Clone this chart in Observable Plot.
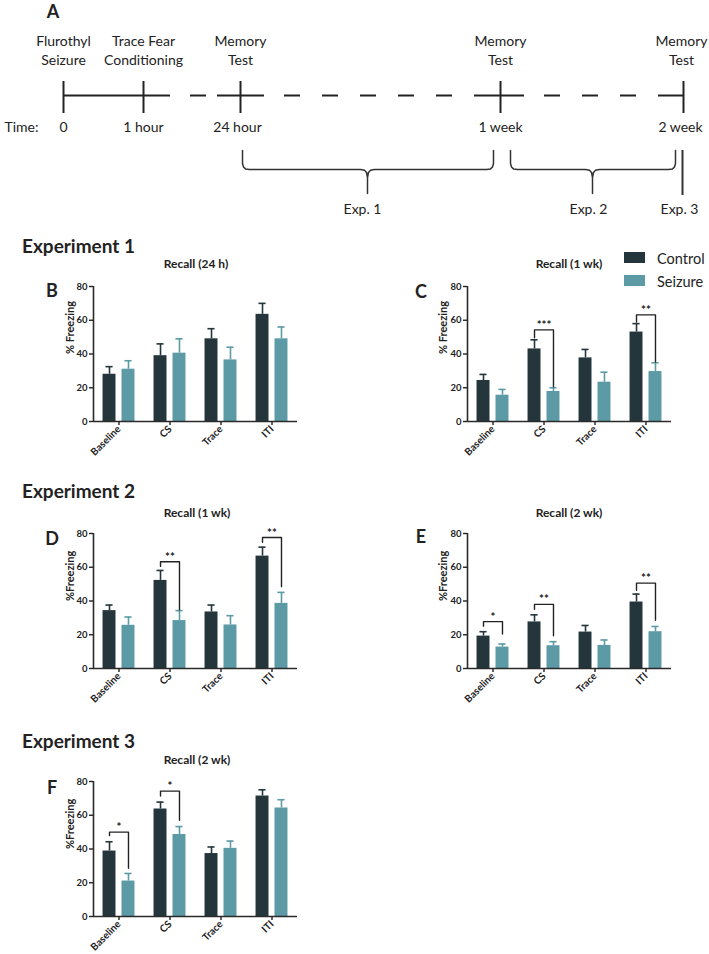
<!DOCTYPE html>
<html><head><meta charset="utf-8">
<script src="https://cdn.jsdelivr.net/npm/d3@7"></script>
<script src="https://cdn.jsdelivr.net/npm/@observablehq/plot@0.6"></script>
<style>
html,body{margin:0;padding:0;background:#fff;overflow:hidden}
#fig{position:relative;width:709px;height:954px;font-family:Lato,sans-serif;color:#222}
.panel{position:absolute}
</style></head>
<body><div id="fig"></div>
<script>
// ---------- shared categories ----------
const categories = ["Baseline", "CS", "Trace", "ITI"];
const groups = ["Control", "Seizure"];
const groupColors = ["#24363b", "#5c9aa5"];
const yTicks = [0, 20, 40, 60, 80];

// ---------- Panel A: timeline (schematic positions) ----------
const timelineEvents = [
  {top: "Flurothyl", bottom: "Seizure", time: "0", pos: 63, labelPos: 63, timePos: 63},
  {top: "Trace Fear", bottom: "Conditioning", time: "1 hour", pos: 143, labelPos: 143, timePos: 143},
  {top: "Memory", bottom: "Test", time: "24 hour", pos: 240, labelPos: 240, timePos: 237},
  {top: "Memory", bottom: "Test", time: "1 week", pos: 500, labelPos: 500, timePos: 500},
  {top: "Memory", bottom: "Test", time: "2 week", pos: 683, labelPos: 681, timePos: 680}
];
const timelineSolid = [[63, 170], [217, 264], [477, 524], [660, 683]];
const timelineDashed = [[170, 217], [264, 477], [524, 660]];
const experimentBraces = [
  {label: "Exp. 1", from: 242, to: 493, mid: 367, labelPos: 362},
  {label: "Exp. 2", from: 510, to: 675, mid: 592, labelPos: 588}
];
const experimentLines = [{label: "Exp. 3", pos: 682, labelPos: 679}];

// ---------- Panel B: Experiment 1, Recall (24 h) ----------
const bControl = [28, 39, 49, 63.5];
const bControlSem = [4.5, 7, 6, 6.5];
const bSeizure = [31, 40.5, 36.5, 49];
const bSeizureSem = [5, 8.5, 7.5, 7];
const bSig = [];

// ---------- Panel C: Experiment 1, Recall (1 wk) ----------
const cControl = [24.3, 43, 37.7, 53];
const cControlSem = [3.6, 5.4, 5, 5];
const cSeizure = [15.6, 17.8, 23.3, 29.6];
const cSeizureSem = [3.4, 2.2, 5.9, 5.2];
const cSig = [
  {cat: "CS", y: 54.3, left: 49.6, right: 20.6, label: "***"},
  {cat: "ITI", y: 63.2, left: 59, right: 35.3, label: "**"}
];

// ---------- Panel D: Experiment 2, Recall (1 wk) ----------
const dControl = [34.3, 52.2, 33.5, 66.6];
const dControlSem = [3.3, 5.9, 4.1, 5.3];
const dSeizure = [25.6, 28.4, 25.8, 38.6];
const dSeizureSem = [4.9, 5.9, 5.5, 6.5];
const dSig = [
  {cat: "CS", y: 63.3, left: 60.5, right: 34.8, label: "**"},
  {cat: "ITI", y: 77.6, left: 74.8, right: 48.5, label: "**"}
];

// ---------- Panel E: Experiment 2, Recall (2 wk) ----------
const eControl = [19.2, 27.6, 21.6, 39.4];
const eControlSem = [2.6, 4.2, 3.9, 4.7];
const eSeizure = [12.7, 13.5, 13.7, 21.8];
const eSeizureSem = [1.8, 2.4, 3.2, 3.1];
const eSig = [
  {cat: "Baseline", y: 27.8, left: 25.1, right: 20.4, label: "*"},
  {cat: "CS", y: 38, left: 35.1, right: 19.4, label: "**"},
  {cat: "ITI", y: 50.6, left: 46.3, right: 28.6, label: "**"}
];

// ---------- Panel F: Experiment 3, Recall (2 wk) ----------
const fControl = [38.8, 63.7, 37.3, 71.4];
const fControlSem = [5.5, 4.1, 3.9, 3.7];
const fSeizure = [21, 48.6, 40.4, 64.3];
const fSeizureSem = [4.5, 4.7, 4.3, 4.9];
const fSig = [
  {cat: "Baseline", y: 50, left: 48, right: 28.6, label: "*"},
  {cat: "CS", y: 74.3, left: 71.4, right: 57, label: "*"}
];

// ---------- Text ----------
const experimentTitles = ["Experiment 1", "Experiment 2", "Experiment 3"];
const panelLetters = ["A", "B", "C", "D", "E", "F"];

const fig = document.getElementById("fig");
function place(node, left, top) {
  const div = document.createElement("div");
  div.className = "panel";
  div.style.left = left + "px";
  div.style.top = top + "px";
  div.appendChild(node);
  fig.appendChild(div);
}

// ---------- Panel A ----------
function bracePoints(b, k) {
  const yTop = 150, yMid = 169, yBot = 193;
  const {from: x1, to: x2, mid: xc} = b;
  return [
    [x1, yTop], [x1, yMid - 6], [x1 + 1, yMid - 2.5], [x1 + 3, yMid - 0.6], [x1 + 7, yMid],
    [xc - 7, yMid], [xc - 3, yMid + 0.8], [xc - 1, yMid + 3], [xc, yMid + 8], [xc, yBot],
    [xc, yMid + 8], [xc + 1, yMid + 3], [xc + 3, yMid + 0.8], [xc + 7, yMid],
    [x2 - 7, yMid], [x2 - 3, yMid - 0.6], [x2 - 1, yMid - 2.5], [x2, yMid - 6], [x2, yTop]
  ].map(([x, y]) => ({x, y, k}));
}
const braceData = experimentBraces.flatMap((b, k) => bracePoints(b, k));

const panelA = Plot.plot({
  width: 709, height: 220, margin: 0,
  x: {domain: [0, 709], range: [0, 709], axis: null},
  y: {domain: [0, 220], range: [0, 220], axis: null},
  style: "font-family:Lato,sans-serif;font-size:14px;color:#222;background:transparent;overflow:visible",
  marks: [
    Plot.ruleY(timelineSolid, {x1: d => d[0], x2: d => d[1], y: () => 95, stroke: "#222", strokeWidth: 2}),
    Plot.ruleY(timelineDashed, {x1: d => d[0], x2: d => d[1], y: () => 95, stroke: "#222", strokeWidth: 2,
      strokeDasharray: "16,22", strokeDashoffset: 18}),
    Plot.ruleX(timelineEvents, {x: "pos", y1: () => 81, y2: () => 113, stroke: "#222", strokeWidth: 2}),
    Plot.text(timelineEvents, {x: "labelPos", y: () => 41, text: "top"}),
    Plot.text(timelineEvents, {x: "labelPos", y: () => 60, text: "bottom"}),
    Plot.text(timelineEvents, {x: "timePos", y: () => 127, text: "time"}),
    Plot.text(["Time:"], {x: () => 4, y: () => 127, text: d => d, textAnchor: "start"}),
    Plot.line(braceData, {x: "x", y: "y", z: "k", stroke: "#333", strokeWidth: 1.5}),
    Plot.ruleX(experimentLines, {x: "pos", y1: () => 150, y2: () => 195, stroke: "#333", strokeWidth: 2}),
    Plot.text([...experimentBraces, ...experimentLines], {x: "labelPos", y: () => 209, text: "label"})
  ]
});
place(panelA, 0, 0);

// ---------- Bar panels ----------
function barPanel(p) {
  const rows = categories.flatMap((cat, i) => [
    {cat, i, group: "Control", value: p.control[i], sem: p.controlSem[i]},
    {cat, i, group: "Seizure", value: p.seizure[i], sem: p.seizureSem[i]}
  ]);
  const shift = {Control: -0.186, Seizure: 0.186};
  const hw = 0.127, cap = 0.07;
  const cx = d => d.i + shift[d.group];
  const brackets = p.sig.flatMap((s, k) => {
    const i = categories.indexOf(s.cat);
    return [
      {k, x: i + shift.Control, y: s.left}, {k, x: i + shift.Control, y: s.y},
      {k, x: i + shift.Seizure, y: s.y}, {k, x: i + shift.Seizure, y: s.right}
    ];
  });
  return Plot.plot({
    width: 260, height: 188, marginLeft: 40, marginRight: 16, marginTop: 12, marginBottom: 41,
    style: "font-family:Lato,sans-serif;font-weight:700;font-size:9.5px;color:#222;background:transparent;overflow:visible",
    x: {domain: [-0.5, 3.5]},
    y: {domain: [0, 80]},
    color: {domain: groups, range: groupColors},
    marks: [
      Plot.rect(rows, {x1: d => cx(d) - hw, x2: d => cx(d) + hw, y1: () => 0, y2: "value", fill: "group"}),
      Plot.ruleX(rows, {x: cx, y1: "value", y2: d => d.value + d.sem, stroke: "group", strokeWidth: 1.6}),
      Plot.ruleY(rows, {x1: d => cx(d) - cap, x2: d => cx(d) + cap, y: d => d.value + d.sem, stroke: "group", strokeWidth: 1.6}),
      Plot.line(brackets, {x: "x", y: "y", z: "k", stroke: "#222", strokeWidth: 1.4}),
      Plot.text(p.sig, {x: d => categories.indexOf(d.cat), y: "y", text: "label", lineAnchor: "bottom", dy: -1, fontSize: 11.5}),
      Plot.ruleX([-0.5], {y1: () => 0, y2: () => 80, stroke: "#2a2a2a", strokeWidth: 1.6}),
      Plot.ruleY([0], {x1: () => -0.5, x2: () => 3.5, stroke: "#2a2a2a", strokeWidth: 1.6}),
      Plot.axisY({ticks: yTicks, tickSize: 4, tickPadding: 2, label: null, strokeWidth: 1.4, fontSize: 9.5}),
      Plot.axisX({ticks: [0, 1, 2, 3], tickFormat: i => categories[i], tickRotate: -45, tickSize: 4, tickPadding: 2, label: null, strokeWidth: 1.4, fontSize: 10}),
      Plot.text([p.yLabel], {frameAnchor: "left", rotate: -90, dx: p.labelDx, fontSize: 11, text: d => d})
    ]
  });
}

place(barPanel({control: bControl, controlSem: bControlSem, seizure: bSeizure, seizureSem: bSeizureSem, sig: bSig, yLabel: "% Freezing", labelDx: -23}), 53, 274);
place(barPanel({control: cControl, controlSem: cControlSem, seizure: cSeizure, seizureSem: cSeizureSem, sig: cSig, yLabel: "% Freezing", labelDx: -24}), 427, 274);
place(barPanel({control: dControl, controlSem: dControlSem, seizure: dSeizure, seizureSem: dSeizureSem, sig: dSig, yLabel: "%Freezing", labelDx: -23}), 53, 521);
place(barPanel({control: eControl, controlSem: eControlSem, seizure: eSeizure, seizureSem: eSeizureSem, sig: eSig, yLabel: "%Freezing", labelDx: -24}), 427, 521);
place(barPanel({control: fControl, controlSem: fControlSem, seizure: fSeizure, seizureSem: fSeizureSem, sig: fSig, yLabel: "%Freezing", labelDx: -23}), 53, 769);

// ---------- Overlay text: letters, headings, subtitles, legend ----------
const svg = d3.select("#fig").append("svg")
  .attr("width", 709).attr("height", 954)
  .style("position", "absolute").style("left", "0px").style("top", "0px")
  .style("pointer-events", "none")
  .attr("font-family", "Lato, sans-serif").attr("fill", "#222");
function label(x, y, s, size, weight, anchor = "middle") {
  svg.append("text").attr("x", x).attr("y", y).attr("font-size", size).attr("font-weight", weight)
    .attr("text-anchor", anchor).attr("dominant-baseline", "central").text(s);
}
// panel letters
[[53, 11], [52, 289.5], [421, 291], [52, 538], [421, 536], [52, 787]].forEach(([x, y], i) => label(x, y, panelLetters[i], 18, 700));
// experiment headings
[[22, 245], [22, 490], [22, 740]].forEach(([x, y], i) => label(x, y, experimentTitles[i], 19, 700, "start"));
// panel subtitles
[[196, 263, "Recall (24 h)"], [569, 263, "Recall (1 wk)"], [197, 512, "Recall (1 wk)"], [569, 512, "Recall (2 wk)"], [197, 759, "Recall (2 wk)"]]
  .forEach(([x, y, s]) => label(x, y, s, 12, 700));
// legend
groups.forEach((g, i) => {
  svg.append("rect").attr("x", 624).attr("y", 252 + i * 23).attr("width", 21).attr("height", 11).attr("fill", groupColors[i]);
  label(657, 258 + i * 23, g, 14.5, 400, "start");
});
</script>
</body></html>
